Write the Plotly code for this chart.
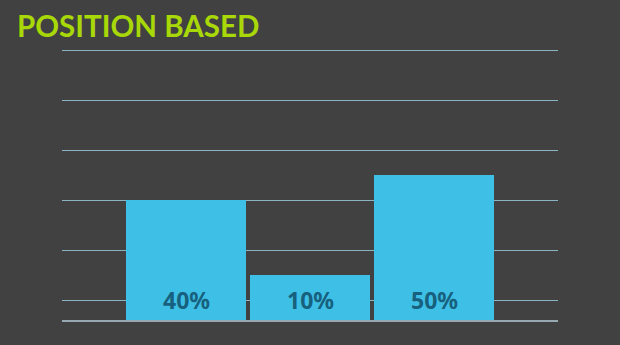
import plotly.graph_objects as go

categories = ["A", "B", "C"]
values = [40, 10, 50]
labels = ["40%", "10%", "50%"]
y_min = -8
y_max = 102

fig = go.Figure()
fig.add_trace(go.Bar(
    x=list(range(len(categories))),
    y=[v - y_min for v in values],
    base=y_min,
    marker=dict(color="#3ec0e6", line=dict(width=0)),
    hoverinfo="skip",
))

for i, lab in enumerate(labels):
    fig.add_annotation(x=i, y=0, text="<b>" + lab + "</b>", showarrow=False, xref="x", yref="y",
                       yanchor="middle", xanchor="center",
                       font=dict(family="Noto Sans", size=23, color="#17607e"))

fig.update_layout(
    width=620, height=345,
    paper_bgcolor="#414141", plot_bgcolor="#414141",
    margin=dict(l=62, r=62, t=45, b=25),
    bargap=4/124,
    showlegend=False,
    title=dict(text="<b>POSITION BASED</b>", x=0, xref="paper", xanchor="left",
               y=1, yref="container", yanchor="top", pad=dict(t=16, l=-45),
               font=dict(family="Lato", size=29.5, color="#a8d808")),
)
fig.update_xaxes(range=[-1, 3], showticklabels=False, showgrid=False, zeroline=False,
                 showline=True, linecolor="#98a8b0", linewidth=1.5)
fig.update_yaxes(range=[y_min, y_max], dtick=20, tick0=0, showticklabels=False,
                 gridcolor="#8ab4c4", gridwidth=1, zeroline=False)

fig.write_html("out.html")
